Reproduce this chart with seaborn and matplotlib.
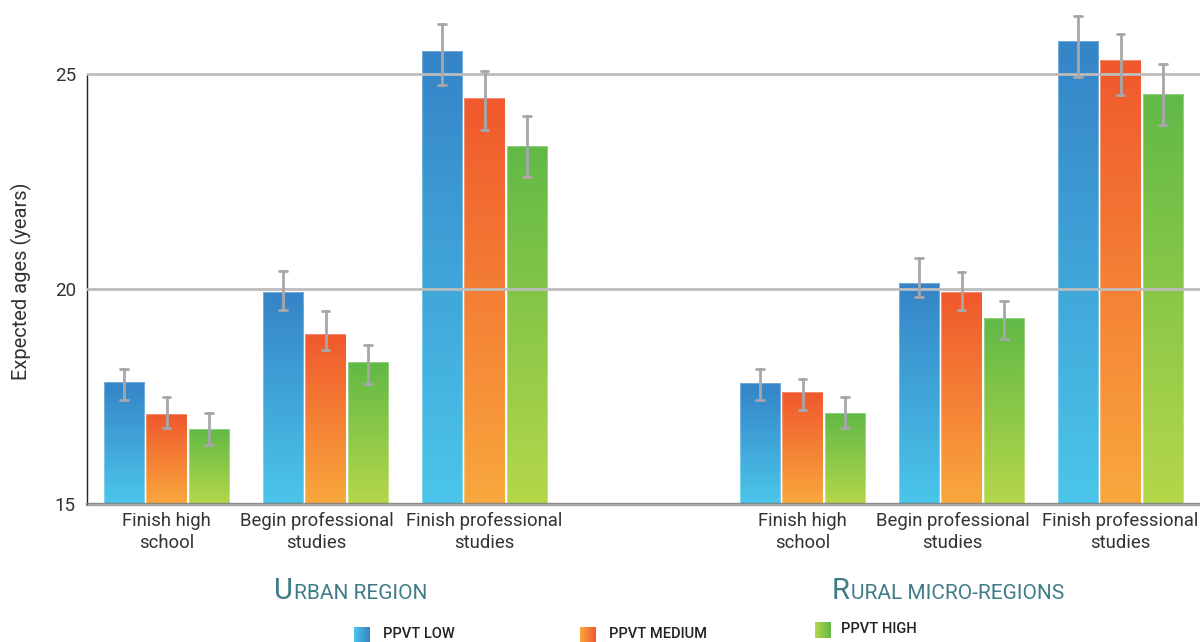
import numpy as np
import pandas as pd
import matplotlib
matplotlib.use("Agg")
import matplotlib.pyplot as plt
import matplotlib.transforms as mtransforms
import seaborn as sns
from matplotlib.colors import LinearSegmentedColormap
from matplotlib.offsetbox import TextArea, HPacker, AnnotationBbox

# ---- data -------------------------------------------------------------
stages = ["Finish high\nschool", "Begin professional\nstudies", "Finish professional\nstudies"]
levels = ["PPVT LOW", "PPVT MEDIUM", "PPVT HIGH"]

urban_low = [17.84, 19.92, 25.53]
urban_medium = [17.08, 18.95, 24.43]
urban_high = [16.73, 18.30, 23.33]
rural_low = [17.81, 20.13, 25.75]
rural_medium = [17.60, 19.92, 25.31]
rural_high = [17.11, 19.32, 24.52]

# lower / upper ends of the error bars
urban_low_lo = [17.41, 19.50, 24.74]
urban_low_hi = [18.14, 20.42, 26.16]
urban_medium_lo = [16.75, 18.57, 23.69]
urban_medium_hi = [17.48, 19.47, 25.06]
urban_high_lo = [16.37, 17.79, 22.59]
urban_high_hi = [17.10, 18.69, 24.02]
rural_low_lo = [17.41, 19.81, 24.92]
rural_low_hi = [18.14, 20.72, 26.35]
rural_medium_lo = [17.18, 19.50, 24.50]
rural_medium_hi = [17.91, 20.39, 25.93]
rural_high_lo = [16.76, 18.83, 23.81]
rural_high_hi = [17.49, 19.71, 25.23]

region_titles = [("U", "RBAN REGION"), ("R", "URAL MICRO-REGIONS")]

# ---- long table: each bar gets (lo, mean, hi); median -> mean, 0-100 pi -> lo..hi
series = {
    ("Urban", "PPVT LOW"): (urban_low, urban_low_lo, urban_low_hi),
    ("Urban", "PPVT MEDIUM"): (urban_medium, urban_medium_lo, urban_medium_hi),
    ("Urban", "PPVT HIGH"): (urban_high, urban_high_lo, urban_high_hi),
    ("Rural", "PPVT LOW"): (rural_low, rural_low_lo, rural_low_hi),
    ("Rural", "PPVT MEDIUM"): (rural_medium, rural_medium_lo, rural_medium_hi),
    ("Rural", "PPVT HIGH"): (rural_high, rural_high_lo, rural_high_hi),
}
rows = []
for (region, level), (mean, lo, hi) in series.items():
    for i in range(len(stages)):
        slot = f"{region}{i}"
        for v in (lo[i], mean[i], hi[i]):
            rows.append({"slot": slot, "level": level, "age": v})
df = pd.DataFrame(rows)
slot_order = ["Urban0", "Urban1", "Urban2", "gap", "Rural0", "Rural1", "Rural2"]
slot_labels = stages + [""] + stages

# vertical gradients per level (bottom colour, top colour)
grad = {
    "PPVT LOW": ("#4BC6EA", "#3584C7"),
    "PPVT MEDIUM": ("#F9A83D", "#F0582D"),
    "PPVT HIGH": ("#B5D74A", "#61B946"),
}

sns.set_theme(style="white")
plt.rcParams["font.family"] = ["Roboto", "DejaVu Sans"]

fig = plt.figure(figsize=(12, 6.42), dpi=100)
ax = fig.add_axes([87 / 1200, 1 - 503.7 / 642, 1 - 87 / 1200, 503.7 / 642])

sns.barplot(
    data=df, x="slot", y="age", hue="level", order=slot_order, hue_order=levels,
    estimator="median", errorbar=("pi", 100), width=0.8, gap=0.05,
    capsize=0.15, legend=False, ax=ax,
    err_kws={"color": "#A7A7AA", "linewidth": 2.0, "zorder": 4},
)

ymin = 15
ax.set_ylim(ymin, ymin + 503.7 / 43.0)
ax.set_xlim(-0.5, 6.5)

# gradient fill inside each bar
for level, container in zip(levels, ax.containers):
    cmap = LinearSegmentedColormap.from_list(level, list(grad[level]))
    g = np.linspace(0, 1, 256).reshape(-1, 1)
    for bar in container:
        x0, w, h = bar.get_x(), bar.get_width(), bar.get_height()
        if not np.isfinite(h):
            continue
        bar.set_facecolor("none")
        bar.set_edgecolor((1, 1, 1, 0.3))
        bar.set_linewidth(0.8)
        bar.set_zorder(1.5)
        im = ax.imshow(g, cmap=cmap, origin="lower", aspect="auto",
                       extent=[x0, x0 + w, ymin, h], zorder=1, interpolation="bilinear")
        im.set_clip_path(bar)

# axes styling
ax.set_xlabel("")
ax.set_ylabel("Expected ages (years)", fontsize=14.5, color="#333333")
ax.yaxis.set_label_coords(-0.049, (503.7 - 281) / 503.7)
ax.set_yticks([15, 20, 25])
ax.set_yticklabels(["15", "20", "25"], fontsize=13.5, color="#333333")
ax.tick_params(axis="y", length=0, pad=8)
ax.set_xticks(range(len(slot_order)))
ax.set_xticklabels(slot_labels, fontsize=13.3, color="#333333", linespacing=1.3)
ax.tick_params(axis="x", which="major", length=0, pad=6)
# the two-line "Begin professional" labels sit a little left of their slot
shift = mtransforms.ScaledTranslation(-9 / 100, 0, fig.dpi_scale_trans)
for idx in (1, 5):
    lbl = ax.get_xticklabels()[idx]
    lbl.set_transform(lbl.get_transform() + shift)
ax.set_xticks([0.5, 1.5, 2.5, 3.5, 4.5, 5.5], minor=True)
ax.tick_params(axis="x", which="minor", direction="in", length=6, width=1.2, color="#A0A0A0")

ax.yaxis.grid(True, color="#BDBDBD", linewidth=2.0)
ax.xaxis.grid(False)
ax.set_axisbelow(False)

for side in ("top", "right"):
    ax.spines[side].set_visible(False)
ax.spines["left"].set_color("#222222")
ax.spines["left"].set_linewidth(1.0)
ax.spines["left"].set_bounds(15, 25)
ax.spines["bottom"].set_color("#555555")
ax.spines["bottom"].set_alpha(0.5)
ax.spines["bottom"].set_linewidth(2.5)
ax.spines["bottom"].set_zorder(3)

# region titles in small caps
for (big, small), xpix in zip(region_titles, [351, 948]):
    box = HPacker(children=[
        TextArea(big, textprops=dict(fontsize=21, color="#3F7C86")),
        TextArea(small, textprops=dict(fontsize=15, color="#3F7C86")),
    ], align="baseline", pad=0, sep=1)
    ab = AnnotationBbox(box, (xpix / 1200, 1 - 591 / 642), xycoords="figure fraction",
                        box_alignment=(0.5, 0.5), frameon=False)
    fig.add_artist(ab)

# legend with horizontal gradient swatches
legend_pos = [(354, 627, 383), (580, 627, 609), (815, 622, 841)]
for level, (sx, sy, tx) in zip(levels, legend_pos):
    lax = fig.add_axes([sx / 1200, 1 - (sy + 16) / 642, 16 / 1200, 16 / 642])
    cmap = LinearSegmentedColormap.from_list(level + "_h", list(grad[level]))
    lax.imshow(np.linspace(0, 1, 64).reshape(1, -1), cmap=cmap, aspect="auto")
    lax.set_axis_off()
    fig.text(tx / 1200, 1 - (sy + 7) / 642, level, fontsize=10.5, fontweight="medium",
             color="#222222", va="center", ha="left")

fig.savefig("out.png", dpi=100)
